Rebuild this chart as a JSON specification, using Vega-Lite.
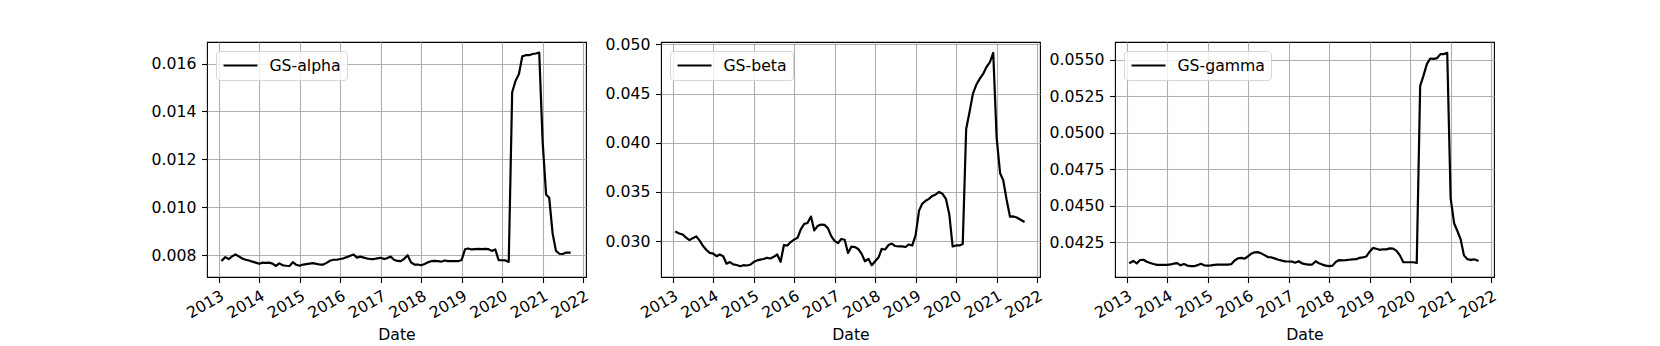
{
  "$schema": "https://vega.github.io/schema/vega-lite/v6.json",
  "autosize": {"type": "none"},
  "padding": {"left": 207, "top": 42, "right": 1453, "bottom": 304},
  "background": "white",
  "datasets": {
    "gs": [
      {"d":"2013-02-01","a":0.00779,"b":0.03092,"c":0.04110},
      {"d":"2013-03-01","a":0.00792,"b":0.03078,"c":0.04122},
      {"d":"2013-04-01","a":0.00784,"b":0.03067,"c":0.04105},
      {"d":"2013-05-01","a":0.00795,"b":0.03035,"c":0.04128},
      {"d":"2013-06-01","a":0.00803,"b":0.03010,"c":0.04130},
      {"d":"2013-07-01","a":0.00795,"b":0.03030,"c":0.04116},
      {"d":"2013-08-01","a":0.00786,"b":0.03048,"c":0.04108},
      {"d":"2013-09-01","a":0.00781,"b":0.03005,"c":0.04101},
      {"d":"2013-10-01","a":0.00778,"b":0.02950,"c":0.04095},
      {"d":"2013-11-01","a":0.00773,"b":0.02910,"c":0.04095},
      {"d":"2013-12-01","a":0.00769,"b":0.02880,"c":0.04095},
      {"d":"2014-01-01","a":0.00764,"b":0.02872,"c":0.04095},
      {"d":"2014-02-01","a":0.00769,"b":0.02846,"c":0.04098},
      {"d":"2014-03-01","a":0.00768,"b":0.02864,"c":0.04103},
      {"d":"2014-04-01","a":0.00769,"b":0.02846,"c":0.04107},
      {"d":"2014-05-01","a":0.00765,"b":0.02770,"c":0.04092},
      {"d":"2014-06-01","a":0.00755,"b":0.02787,"c":0.04101},
      {"d":"2014-07-01","a":0.00766,"b":0.02763,"c":0.04090},
      {"d":"2014-08-01","a":0.00758,"b":0.02757,"c":0.04086},
      {"d":"2014-09-01","a":0.00756,"b":0.02745,"c":0.04086},
      {"d":"2014-10-01","a":0.00755,"b":0.02755,"c":0.04093},
      {"d":"2014-11-01","a":0.00771,"b":0.02752,"c":0.04102},
      {"d":"2014-12-01","a":0.00760,"b":0.02760,"c":0.04092},
      {"d":"2015-01-01","a":0.00756,"b":0.02787,"c":0.04090},
      {"d":"2015-02-01","a":0.00761,"b":0.02804,"c":0.04091},
      {"d":"2015-03-01","a":0.00763,"b":0.02811,"c":0.04095},
      {"d":"2015-04-01","a":0.00765,"b":0.02818,"c":0.04097},
      {"d":"2015-05-01","a":0.00767,"b":0.02830,"c":0.04097},
      {"d":"2015-06-01","a":0.00764,"b":0.02823,"c":0.04097},
      {"d":"2015-07-01","a":0.00761,"b":0.02840,"c":0.04097},
      {"d":"2015-08-01","a":0.00761,"b":0.02864,"c":0.04100},
      {"d":"2015-09-01","a":0.00768,"b":0.02790,"c":0.04125},
      {"d":"2015-10-01","a":0.00777,"b":0.02960,"c":0.04140},
      {"d":"2015-11-01","a":0.00781,"b":0.02955,"c":0.04143},
      {"d":"2015-12-01","a":0.00781,"b":0.02990,"c":0.04138},
      {"d":"2016-01-01","a":0.00784,"b":0.03015,"c":0.04154},
      {"d":"2016-02-01","a":0.00787,"b":0.03034,"c":0.04173},
      {"d":"2016-03-01","a":0.00792,"b":0.03120,"c":0.04181},
      {"d":"2016-04-01","a":0.00798,"b":0.03175,"c":0.04182},
      {"d":"2016-05-01","a":0.00803,"b":0.03184,"c":0.04172},
      {"d":"2016-06-01","a":0.00790,"b":0.03250,"c":0.04160},
      {"d":"2016-07-01","a":0.00794,"b":0.03109,"c":0.04147},
      {"d":"2016-08-01","a":0.00790,"b":0.03155,"c":0.04146},
      {"d":"2016-09-01","a":0.00786,"b":0.03168,"c":0.04138},
      {"d":"2016-10-01","a":0.00784,"b":0.03165,"c":0.04130},
      {"d":"2016-11-01","a":0.00784,"b":0.03130,"c":0.04124},
      {"d":"2016-12-01","a":0.00787,"b":0.03050,"c":0.04119},
      {"d":"2017-01-01","a":0.00789,"b":0.03000,"c":0.04118},
      {"d":"2017-02-01","a":0.00784,"b":0.02980,"c":0.04117},
      {"d":"2017-03-01","a":0.00788,"b":0.03022,"c":0.04110},
      {"d":"2017-04-01","a":0.00794,"b":0.03014,"c":0.04120},
      {"d":"2017-05-01","a":0.00781,"b":0.02880,"c":0.04105},
      {"d":"2017-06-01","a":0.00776,"b":0.02944,"c":0.04100},
      {"d":"2017-07-01","a":0.00775,"b":0.02940,"c":0.04097},
      {"d":"2017-08-01","a":0.00785,"b":0.02920,"c":0.04097},
      {"d":"2017-09-01","a":0.00800,"b":0.02870,"c":0.04120},
      {"d":"2017-10-01","a":0.00770,"b":0.02795,"c":0.04106},
      {"d":"2017-11-01","a":0.00761,"b":0.02820,"c":0.04097},
      {"d":"2017-12-01","a":0.00761,"b":0.02755,"c":0.04090},
      {"d":"2018-01-01","a":0.00758,"b":0.02795,"c":0.04086},
      {"d":"2018-02-01","a":0.00763,"b":0.02835,"c":0.04090},
      {"d":"2018-03-01","a":0.00770,"b":0.02920,"c":0.04115},
      {"d":"2018-04-01","a":0.00775,"b":0.02915,"c":0.04128},
      {"d":"2018-05-01","a":0.00776,"b":0.02960,"c":0.04126},
      {"d":"2018-06-01","a":0.00775,"b":0.02975,"c":0.04127},
      {"d":"2018-07-01","a":0.00773,"b":0.02950,"c":0.04130},
      {"d":"2018-08-01","a":0.00778,"b":0.02946,"c":0.04132},
      {"d":"2018-09-01","a":0.00775,"b":0.02946,"c":0.04134},
      {"d":"2018-10-01","a":0.00775,"b":0.02940,"c":0.04143},
      {"d":"2018-11-01","a":0.00775,"b":0.02966,"c":0.04146},
      {"d":"2018-12-01","a":0.00775,"b":0.02955,"c":0.04152},
      {"d":"2019-01-01","a":0.00780,"b":0.03060,"c":0.04185},
      {"d":"2019-02-01","a":0.00825,"b":0.03310,"c":0.04211},
      {"d":"2019-03-01","a":0.00828,"b":0.03380,"c":0.04205},
      {"d":"2019-04-01","a":0.00824,"b":0.03410,"c":0.04198},
      {"d":"2019-05-01","a":0.00825,"b":0.03430,"c":0.04202},
      {"d":"2019-06-01","a":0.00826,"b":0.03460,"c":0.04201},
      {"d":"2019-07-01","a":0.00825,"b":0.03475,"c":0.04208},
      {"d":"2019-08-01","a":0.00826,"b":0.03500,"c":0.04206},
      {"d":"2019-09-01","a":0.00825,"b":0.03480,"c":0.04191},
      {"d":"2019-10-01","a":0.00818,"b":0.03430,"c":0.04160},
      {"d":"2019-11-01","a":0.00824,"b":0.03270,"c":0.04113},
      {"d":"2019-12-01","a":0.00779,"b":0.02945,"c":0.04113},
      {"d":"2020-01-01","a":0.00779,"b":0.02956,"c":0.04113},
      {"d":"2020-02-01","a":0.00778,"b":0.02956,"c":0.04113},
      {"d":"2020-03-01","a":0.00772,"b":0.02970,"c":0.04108},
      {"d":"2020-04-01","a":0.01480,"b":0.04140,"c":0.05320},
      {"d":"2020-05-01","a":0.01527,"b":0.04310,"c":0.05390},
      {"d":"2020-06-01","a":0.01556,"b":0.04500,"c":0.05470},
      {"d":"2020-07-01","a":0.01630,"b":0.04590,"c":0.05507},
      {"d":"2020-08-01","a":0.01635,"b":0.04650,"c":0.05505},
      {"d":"2020-09-01","a":0.01635,"b":0.04700,"c":0.05510},
      {"d":"2020-10-01","a":0.01640,"b":0.04770,"c":0.05537},
      {"d":"2020-11-01","a":0.01642,"b":0.04820,"c":0.05537},
      {"d":"2020-12-01","a":0.01646,"b":0.04914,"c":0.05546},
      {"d":"2021-01-01","a":0.01272,"b":0.04050,"c":0.04550},
      {"d":"2021-02-01","a":0.01053,"b":0.03690,"c":0.04380},
      {"d":"2021-03-01","a":0.01040,"b":0.03620,"c":0.04330},
      {"d":"2021-04-01","a":0.00890,"b":0.03420,"c":0.04270},
      {"d":"2021-05-01","a":0.00818,"b":0.03250,"c":0.04160},
      {"d":"2021-06-01","a":0.00806,"b":0.03251,"c":0.04134},
      {"d":"2021-07-01","a":0.00805,"b":0.03240,"c":0.04129},
      {"d":"2021-08-01","a":0.00811,"b":0.03220,"c":0.04133},
      {"d":"2021-09-01","a":0.00811,"b":0.03200,"c":0.04124}
    ]
  },
  "spacing": 75,
  "bounds": "flush",
  "resolve": {"scale": {"color": "independent"}, "legend": {"color": "independent"}},
  "config": {
    "font": "DejaVu Sans",
    "view": {"stroke": "black", "strokeWidth": 1.1},
    "axis": {
      "domain": false,
      "tickColor": "black",
      "tickWidth": 1.1,
      "tickSize": 5.5,
      "labelFont": "DejaVu Sans",
      "labelFontSize": 15.7,
      "labelColor": "black",
      "labelPadding": 5.5,
      "labelFlush": false,
      "labelOverlap": false,
      "gridColor": "#b0b0b0",
      "gridWidth": 1.1,
      "gridOpacity": 1,
      "titleFont": "DejaVu Sans",
      "titleFontSize": 15.7,
      "titleFontWeight": "normal",
      "titleColor": "black"
    },
    "axisX": {
      "labelAngle": -30,
      "labelAlign": "right",
      "labelBaseline": "top",
      "labelDx": -7.4,
      "labelDy": -1.2,
      "titleY": 62.6,
      "titleBaseline": "alphabetic"
    },
    "legend": {
      "orient": "top-left",
      "offset": 8.5,
      "title": null,
      "symbolType": "M-2.4,0H2.4",
      "symbolSize": 200,
      "symbolStrokeWidth": 2.2,
      "symbolOffset": 10,
      "labelFont": "DejaVu Sans",
      "labelFontSize": 15.7,
      "labelColor": "black",
      "labelOffset": 20.4,
      "padding": 6,
      "fillColor": "rgba(255,255,255,0.8)",
      "strokeColor": "#d6d6d6",
      "cornerRadius": 3.5
    }
  },
  "hconcat": [
    {
      "width": 379,
      "height": 235,
      "data": {"name": "gs"},
      "mark": {"type": "line", "strokeWidth": 2.2, "strokeJoin": "round", "strokeCap": "square"},
      "encoding": {
        "x": {"field": "d", "type": "temporal",
          "scale": {"type": "utc", "domain": [{"year": 2012, "month": 9, "date": 17, "utc": true}, {"year": 2022, "month": 1, "date": 27, "utc": true}]},
          "axis": {"title": "Date", "format": "%Y", "tickCount": {"interval": "year", "step": 1}}},
        "y": {"field": "a", "type": "quantitative",
          "scale": {"domain": [0.00709, 0.0169], "nice": false, "zero": false},
          "axis": {"title": null, "values": [0.008, 0.010, 0.012, 0.014, 0.016], "format": ".3f"}},
        "color": {"datum": "GS-alpha", "type": "nominal", "scale": {"range": ["black"]}}
      }
    },
    {
      "width": 379,
      "height": 235,
      "data": {"name": "gs"},
      "mark": {"type": "line", "strokeWidth": 2.2, "strokeJoin": "round", "strokeCap": "square"},
      "encoding": {
        "x": {"field": "d", "type": "temporal",
          "scale": {"type": "utc", "domain": [{"year": 2012, "month": 9, "date": 17, "utc": true}, {"year": 2022, "month": 1, "date": 27, "utc": true}]},
          "axis": {"title": "Date", "format": "%Y", "tickCount": {"interval": "year", "step": 1}}},
        "y": {"field": "b", "type": "quantitative",
          "scale": {"domain": [0.02635, 0.05025], "nice": false, "zero": false},
          "axis": {"title": null, "values": [0.030, 0.035, 0.040, 0.045, 0.050], "format": ".3f"}},
        "color": {"datum": "GS-beta", "type": "nominal", "scale": {"range": ["black"]}}
      }
    },
    {
      "width": 379,
      "height": 235,
      "data": {"name": "gs"},
      "mark": {"type": "line", "strokeWidth": 2.2, "strokeJoin": "round", "strokeCap": "square"},
      "encoding": {
        "x": {"field": "d", "type": "temporal",
          "scale": {"type": "utc", "domain": [{"year": 2012, "month": 9, "date": 17, "utc": true}, {"year": 2022, "month": 1, "date": 27, "utc": true}]},
          "axis": {"title": "Date", "format": "%Y", "tickCount": {"interval": "year", "step": 1}}},
        "y": {"field": "c", "type": "quantitative",
          "scale": {"domain": [0.04012, 0.0562], "nice": false, "zero": false},
          "axis": {"title": null, "values": [0.0425, 0.0450, 0.0475, 0.0500, 0.0525, 0.0550], "format": ".4f"}},
        "color": {"datum": "GS-gamma", "type": "nominal", "scale": {"range": ["black"]}}
      }
    }
  ]
}
